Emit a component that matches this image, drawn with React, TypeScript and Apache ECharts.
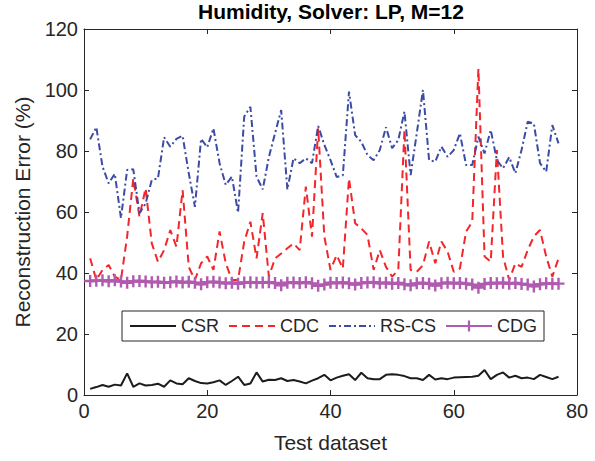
import React, { useEffect, useRef } from "react";
import * as echarts from "echarts";

const FONT = '"Liberation Sans", Arial, Helvetica, sans-serif';
const TXT = "#262626";

const SERIES_NAMES = ["CSR", "CDC", "RS-CS", "CDG"];
const X_TICKS = [0, 20, 40, 60, 80];
const Y_TICKS = [0, 20, 40, 60, 80, 100, 120];

const CSR = [
  2.0, 2.6, 3.3, 2.7, 3.4, 3.1, 7.1, 2.7, 3.8, 3.1,
  3.3, 3.7, 2.7, 4.8, 3.8, 3.5, 5.5, 4.6, 3.9, 3.8,
  4.2, 4.8, 3.3, 4.6, 6.0, 3.3, 3.8, 7.4, 4.4, 5.0,
  4.9, 5.5, 4.6, 4.9, 4.4, 3.8, 4.7, 5.5, 6.6, 4.8,
  5.7, 6.3, 6.8, 4.9, 7.3, 5.5, 5.2, 5.2, 6.6, 6.8,
  6.6, 6.2, 5.5, 5.5, 4.9, 6.6, 5.1, 5.5, 5.2, 5.7,
  5.8, 5.9, 6.0, 6.3, 8.2, 5.2, 6.6, 7.4, 5.7, 6.3,
  5.5, 5.7, 5.2, 6.6, 5.9, 5.2, 6.0,
];

const CDC = [
  44.8, 37.7, 41.0, 42.6, 38.8, 37.7, 52.0, 71.0, 58.5, 67.8,
  49.7, 43.7, 47.5, 54.1, 48.6, 67.2, 42.0, 37.7, 43.2, 45.4,
  41.0, 53.6, 43.2, 37.7, 37.7, 50.3, 56.8, 44.8, 59.6, 38.8,
  44.8, 46.4, 48.1, 49.7, 47.5, 68.3, 51.9, 87.4, 52.0, 41.0,
  45.9, 41.5, 71.0, 56.3, 54.6, 52.5, 41.0, 47.5, 42.0, 38.8,
  41.0, 86.9, 41.0, 40.4, 42.6, 50.3, 43.2, 50.3, 47.0, 40.4,
  41.5, 53.6, 56.8, 107.0, 45.4, 43.7, 80.3, 45.4, 37.7, 43.2,
  42.0, 47.5, 52.0, 54.1, 45.4, 38.8, 44.8,
];

const RSCS = [
  83.8, 87.8, 74.9, 69.4, 72.5, 58.0, 73.8, 74.0, 59.6, 62.8,
  70.5, 71.0, 84.5, 81.4, 84.0, 85.0, 72.7, 61.7, 84.0, 81.2,
  87.4, 76.0, 68.9, 71.6, 59.8, 91.3, 94.5, 71.6, 67.4, 78.0,
  85.8, 93.4, 67.4, 77.6, 76.0, 77.6, 76.0, 88.2, 82.0, 77.0,
  71.5, 72.0, 99.5, 85.2, 83.0, 78.7, 77.0, 80.3, 87.8, 80.9,
  83.6, 92.9, 72.1, 85.8, 100.0, 77.0, 76.5, 81.4, 78.1, 80.3,
  85.8, 75.4, 75.4, 84.7, 79.2, 86.9, 77.0, 74.3, 78.0, 72.7,
  80.3, 89.6, 89.0, 76.0, 73.2, 88.5, 82.5,
];

const CDG = [
  37.4, 37.5, 37.6, 37.3, 37.6, 37.2, 36.8, 37.3, 37.4, 37.2,
  37.0, 37.1, 36.8, 37.0, 37.2, 36.9, 37.1, 36.8, 36.3, 37.0,
  37.1, 36.9, 36.6, 36.8, 36.5, 36.9, 37.0, 36.8, 36.9, 37.0,
  36.7, 36.0, 36.8, 36.9, 36.7, 37.0, 36.6, 35.8, 36.2, 36.8,
  36.7, 36.9, 36.6, 36.2, 36.7, 36.9, 37.0, 36.6, 36.8, 36.5,
  36.7, 36.3, 36.0, 36.6, 36.7, 36.5, 35.9, 36.6, 36.8, 36.6,
  36.7, 36.5, 36.2, 35.2, 36.4, 36.7, 36.6, 36.8, 36.5, 36.7,
  36.4, 36.2, 35.6, 36.3, 36.6, 36.5, 36.5,
];

const PLUS =
  "path://M-0.2,-1H0.2V-0.2H1V0.2H0.2V1H-0.2V0.2H-1V-0.2H-0.2Z";

function pairs(vals: number[]) {
  return vals.map((v, i) => [i + 1, v]);
}

export default function App() {
  const ref = useRef<HTMLDivElement>(null);
  useEffect(() => {
    if (!ref.current) return;
    const chart = echarts.init(ref.current, undefined, { renderer: "svg" });
    const axisLine = { show: true, onZero: false, lineStyle: { color: TXT, width: 1 } };
    const axisTick = { show: true, inside: true, length: 5, lineStyle: { color: TXT, width: 1 } };
    const xBase = {
      type: "value",
      min: X_TICKS[0],
      max: X_TICKS[X_TICKS.length - 1],
      interval: 20,
      axisLine,
      axisTick,
      splitLine: { show: false },
    };
    const yBase = {
      type: "value",
      min: Y_TICKS[0],
      max: Y_TICKS[Y_TICKS.length - 1],
      interval: 20,
      axisLine,
      axisTick,
      splitLine: { show: false },
    };
    const legendData = SERIES_NAMES.map((n) =>
      n === "CDG" ? { name: n } : { name: n, itemStyle: { opacity: 0 } }
    );
    const option: any = {
      animation: false,
      backgroundColor: "#ffffff",
      textStyle: { fontFamily: FONT },
      title: {
        text: "Humidity, Solver: LP, M=12",
        left: 331,
        top: 1,
        textAlign: "center",
        padding: 0,
        textStyle: { fontSize: 21, fontWeight: "bold", color: "#000", fontFamily: FONT },
      },
      grid: { left: 84, right: 18, top: 29, bottom: 66, containLabel: false, outerBoundsMode: "none" },
      legend: {
        data: legendData,
        left: 122,
        top: 311,
        orient: "horizontal",
        itemWidth: 46,
        itemHeight: 14,
        itemGap: 9,
        padding: [6, 7],
        borderColor: TXT,
        borderWidth: 1,
        backgroundColor: "#ffffff",
        textStyle: { fontSize: 18, color: TXT, fontFamily: FONT },
      },
      xAxis: [
        {
          ...xBase,
          position: "bottom",
          name: "Test dataset",
          nameLocation: "middle",
          nameGap: 37,
          nameTextStyle: { fontSize: 21, color: TXT, fontFamily: FONT },
          axisLabel: { fontSize: 20, color: TXT, margin: 6, fontFamily: FONT },
        },
        { ...xBase, position: "top", axisLabel: { show: false } },
      ],
      yAxis: [
        {
          ...yBase,
          position: "left",
          name: "Reconstruction Error (%)",
          nameLocation: "middle",
          nameGap: 51,
          nameRotate: 90,
          nameTextStyle: { fontSize: 21, color: TXT, fontFamily: FONT },
          axisLabel: { fontSize: 20, color: TXT, margin: 6, fontFamily: FONT },
        },
        { ...yBase, position: "right", axisLabel: { show: false } },
      ],
      series: [
        {
          name: "CSR",
          type: "line",
          data: pairs(CSR),
          symbol: "none",
          lineStyle: { color: "#1c1c1c", width: 2 },
          itemStyle: { color: "#1c1c1c" },
        },
        {
          name: "CDC",
          type: "line",
          data: pairs(CDC),
          symbol: "none",
          lineStyle: { color: "#F2262B", width: 2, type: [8, 5] },
          itemStyle: { color: "#F2262B" },
        },
        {
          name: "RS-CS",
          type: "line",
          data: pairs(RSCS),
          symbol: "none",
          lineStyle: { color: "#3B4BA6", width: 2, type: [7, 3, 2, 3] },
          itemStyle: { color: "#3B4BA6" },
        },
        {
          name: "CDG",
          type: "line",
          data: pairs(CDG),
          symbol: PLUS,
          symbolSize: 12,
          lineStyle: { color: "#B05AB0", width: 3 },
          itemStyle: { color: "#B05AB0" },
        },
      ],
    };
    chart.setOption(option);
    return () => chart.dispose();
  }, []);
  return (
    <div
      ref={ref}
      style={{ position: "fixed", left: 0, top: 0, width: 595, height: 461 }}
    />
  );
}
